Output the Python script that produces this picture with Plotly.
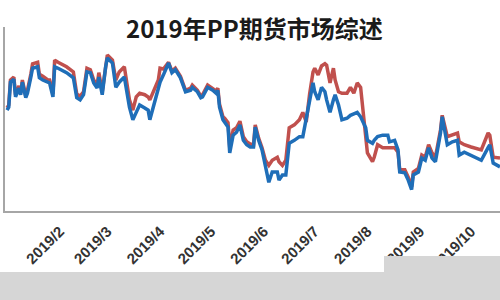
import plotly.graph_objects as go

dates = [
    "2019-01-01", "2019-01-02", "2019-01-03", "2019-01-05", "2019-01-06", "2019-01-08",
    "2019-01-09", "2019-01-10", "2019-01-12", "2019-01-13", "2019-01-15", "2019-01-16",
    "2019-01-19", "2019-01-20", "2019-01-22", "2019-01-25", "2019-01-26", "2019-01-28",
    "2019-01-29", "2019-01-31", "2019-02-05", "2019-02-09", "2019-02-11", "2019-02-13",
    "2019-02-15", "2019-02-17", "2019-02-19", "2019-02-21", "2019-02-23", "2019-02-24",
    "2019-02-26", "2019-02-28", "2019-03-01", "2019-03-04", "2019-03-06", "2019-03-08",
    "2019-03-11", "2019-03-14", "2019-03-16", "2019-03-18", "2019-03-20", "2019-03-23",
    "2019-03-25", "2019-03-26", "2019-03-28", "2019-03-31", "2019-04-01", "2019-04-03",
    "2019-04-06", "2019-04-08", "2019-04-10", "2019-04-13", "2019-04-16", "2019-04-19",
    "2019-04-20", "2019-04-23", "2019-04-25", "2019-04-26", "2019-04-29", "2019-05-02",
    "2019-05-04", "2019-05-05", "2019-05-06", "2019-05-08", "2019-05-09", "2019-05-11",
    "2019-05-12", "2019-05-14", "2019-05-16", "2019-05-18", "2019-05-20", "2019-05-22",
    "2019-05-24", "2019-05-26", "2019-05-27", "2019-05-29", "2019-05-31", "2019-06-02",
    "2019-06-04", "2019-06-06", "2019-06-09", "2019-06-10", "2019-06-12", "2019-06-14",
    "2019-06-16", "2019-06-19", "2019-06-22", "2019-06-24", "2019-06-26", "2019-06-28",
    "2019-06-30", "2019-07-01", "2019-07-03", "2019-07-05", "2019-07-07", "2019-07-08",
    "2019-07-10", "2019-07-12", "2019-07-13", "2019-07-15", "2019-07-17", "2019-07-20",
    "2019-07-22", "2019-07-24", "2019-07-26", "2019-07-28", "2019-07-31", "2019-08-01",
    "2019-08-04", "2019-08-05", "2019-08-07", "2019-08-10", "2019-08-13", "2019-08-14",
    "2019-08-17", "2019-08-19", "2019-08-20", "2019-08-23", "2019-08-25", "2019-08-27",
    "2019-08-28", "2019-08-31", "2019-09-02", "2019-09-04", "2019-09-06", "2019-09-08",
    "2019-09-10", "2019-09-13", "2019-09-14", "2019-09-17", "2019-09-20", "2019-09-23",
    "2019-09-24", "2019-09-27", "2019-10-01", "2019-10-07", "2019-10-11", "2019-10-12",
    "2019-10-14", "2019-10-17", "2019-10-18",
]

blue_values = [
    8370, 8410, 8750, 8790, 8550, 8670, 8580, 8750, 8540, 8600, 8820, 8940,
    8960, 8810, 8780, 8740, 8740, 8550, 8960, 8940, 8880, 8810, 8540, 8510,
    8580, 8890, 8880, 8740, 8670, 8820, 8580, 8960, 9080, 9010, 8680, 8750,
    8820, 8410, 8240, 8340, 8440, 8400, 8370, 8240, 8410, 8640, 8750, 8850,
    9010, 8880, 8920, 8810, 8620, 8640, 8680, 8620, 8540, 8550, 8680, 8640,
    8600, 8640, 8410, 8240, 8210, 8140, 7790, 8030, 8070, 8170, 7960, 7900,
    7870, 7870, 8140, 7960, 7830, 7600, 7390, 7530, 7530, 7420, 7490, 7490,
    7920, 7960, 8010, 8010, 8260, 8470, 8740, 8620, 8510, 8680, 8620, 8510,
    8340, 8510, 8580, 8440, 8240, 8260, 8300, 8320, 8340, 8280, 8130, 7960,
    7920, 7960, 8010, 8030, 8030, 7940, 7960, 7830, 7530, 7520, 7420, 7290,
    7490, 7530, 7720, 7690, 7860, 7720, 7670, 8060, 8280, 7900, 7940, 7960,
    7760, 7800, 7760, 7690, 7860, 7900, 7650, 7620, 7600,
]

red_values = [
    8400, 8440, 8780, 8820, 8580, 8700, 8600, 8780, 8560, 8640, 8860, 9000,
    9020, 8860, 8830, 8780, 8780, 8590, 9050, 9020, 8960, 8890, 8590, 8560,
    8620, 8940, 8920, 8780, 8710, 8880, 8620, 9020, 9120, 9050, 8780, 8890,
    8960, 8510, 8370, 8550, 8600, 8580, 8550, 8510, 8620, 8780, 8940, 8930,
    9020, 8900, 8940, 8830, 8640, 8670, 8710, 8640, 8560, 8580, 8710, 8670,
    8630, 8670, 8450, 8280, 8260, 8200, 7860, 8100, 8130, 8220, 8010, 7940,
    7910, 7900, 8170, 7990, 7860, 7690, 7620, 7690, 7730, 7670, 7620, 7690,
    8130, 8170, 8240, 8340, 8210, 8590, 8890, 8940, 8850, 8970, 9000, 8980,
    8740, 8940, 8780, 8620, 8600, 8600, 8680, 8600, 8740, 8680, 8060, 7790,
    7670, 7730, 7900, 7860, 7860, 7860, 7860, 7800, 7560, 7560, 7460, 7330,
    7530, 7580, 7760, 7730, 7900, 7790, 7730, 8100, 8300, 8010, 8030, 8060,
    7940, 7900, 7870, 7830, 8060, 8030, 7730, 7720, 7720,
]

tick_dates = [
    "2019-01-01", "2019-02-01", "2019-03-01", "2019-04-01", "2019-05-01", "2019-06-01",
    "2019-07-01", "2019-08-01", "2019-09-01", "2019-10-01", "2019-11-01",
]
tick_labels = [
    "2019/1", "2019/2", "2019/3", "2019/4", "2019/5", "2019/6",
    "2019/7", "2019/8", "2019/9", "2019/10", "2019/11",
]

title_text = "2019年PP期货市场综述"

fig = go.Figure()
fig.add_trace(go.Scatter(
    x=dates, y=red_values, mode="lines",
    line=dict(color="#C0504D", width=3.5), showlegend=False, hoverinfo="skip",
))
fig.add_trace(go.Scatter(
    x=dates, y=blue_values, mode="lines",
    line=dict(color="#1F6EB8", width=3.5), showlegend=False, hoverinfo="skip",
))

fig.update_layout(
    width=500, height=300,
    margin=dict(l=5, r=0, t=27, b=89),
    paper_bgcolor="white", plot_bgcolor="white",
    showlegend=False,
    xaxis=dict(
        type="date",
        range=["2018-12-30 19:00", "2019-10-18 00:00"],
        tickmode="array", tickvals=tick_dates, ticktext=tick_labels,
        tickangle=-45,
        tickfont=dict(family="Liberation Sans, Arial, sans-serif", size=15,
                      color="#333333", weight="bold"),
        ticklabelstandoff=4,
        showline=True, linecolor="#A6A6A6", linewidth=1.5,
        showgrid=False, zeroline=False, ticks="",
    ),
    yaxis=dict(
        range=[7000, 9500],
        showticklabels=False, showgrid=False, zeroline=False,
        showline=True, linecolor="#A6A6A6", linewidth=1.5, ticks="",
    ),
    annotations=[dict(
        text=title_text, xref="paper", yref="paper",
        x=0.505, y=0.997, xanchor="center", yanchor="middle",
        showarrow=False,
        font=dict(family="Noto Sans CJK SC", size=24, color="#1a1a1a", weight="bold"),
    )],
    shapes=[
        dict(type="rect", xref="paper", yref="paper", layer="above",
             x0=-0.02, x1=1.01, y0=-0.4837, y1=-0.3315,
             fillcolor="#D6D6D6", line=dict(width=0)),
        dict(type="rect", xref="paper", yref="paper", layer="above",
             x0=0.7657, x1=1.01, y0=-0.3315, y1=-0.2446,
             fillcolor="#D6D6D6", line=dict(width=0)),
    ],
)

fig.write_html("out.html")
